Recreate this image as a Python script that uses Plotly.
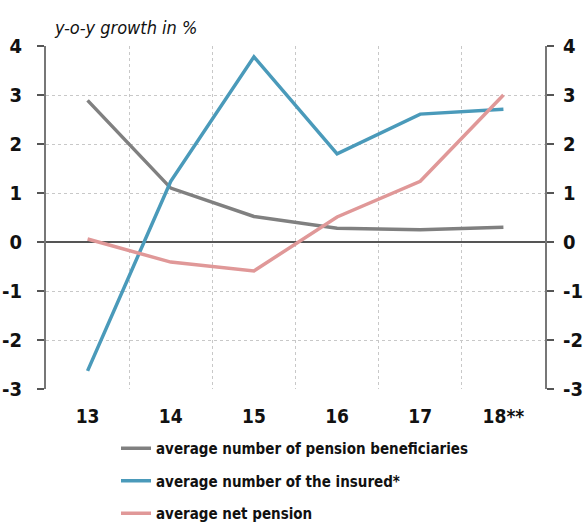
import plotly.graph_objects as go

years = ["13", "14", "15", "16", "17", "18**"]
beneficiaries = [2.89, 1.10, 0.52, 0.28, 0.25, 0.30]
insured = [-2.63, 1.24, 3.78, 1.80, 2.61, 2.71]
net_pension = [0.06, -0.41, -0.59, 0.51, 1.24, 3.00]
y_ticks = [-3, -2, -1, 0, 1, 2, 3, 4]
y_tick_text = ["-3", "-2", "-1", "0", "1", "2", "3", "4"]

series = [
    ("average number of pension beneficiaries", beneficiaries, "#808080"),
    ("average number of the insured*", insured, "#4a9aba"),
    ("average net pension", net_pension, "#e09898"),
]

FONT = "DejaVu Sans Condensed"
x_pos = list(range(len(years)))

# plot area in pixels: left 46, right 545, top 46, bottom 389
PLOT_L, PLOT_W, PLOT_B, PLOT_H = 46, 499, 389, 343

fig = go.Figure()
for name, vals, color in series:
    fig.add_trace(go.Scatter(
        x=x_pos, y=vals, name=name, legendgroup=name, mode="lines",
        line=dict(color=color, width=3.5),
    ))

# invisible trace to carry the mirrored right-hand axis
fig.add_trace(go.Scatter(x=x_pos, y=beneficiaries, yaxis="y2", mode="lines",
                         line=dict(width=0), showlegend=False, hoverinfo="skip"))

yaxis_common = dict(
    range=[-3, 4], tickvals=y_ticks, ticktext=y_tick_text,
    showline=True, linecolor="#777777", linewidth=2,
    ticks="outside", ticklen=7, tickwidth=2, tickcolor="#555555",
    tickfont=dict(family=FONT, size=20, color="#111111", weight="bold"),
)

fig.update_layout(
    width=585, height=523,
    margin=dict(l=46, r=40, t=46, b=134, autoexpand=False),
    paper_bgcolor="white", plot_bgcolor="white",
    font=dict(family=FONT, color="#111111"),
    xaxis=dict(
        range=[-0.5, 5.5], tickvals=x_pos, ticktext=years,
        showgrid=False, zeroline=False, showline=False, ticks="",
        ticklabelstandoff=14,
        tickfont=dict(family=FONT, size=19, color="#111111", weight="bold"),
        minor=dict(tickvals=[0.5, 1.5, 2.5, 3.5, 4.5], showgrid=True,
                   gridcolor="#c8c8c8", griddash="dot", gridwidth=1),
    ),
    yaxis=dict(
        **yaxis_common, side="left", ticklabelstandoff=11,
        showgrid=True, gridcolor="#c8c8c8", griddash="dot", gridwidth=1,
        zeroline=True, zerolinecolor="#555555", zerolinewidth=2,
    ),
    yaxis2=dict(
        **yaxis_common, side="right", overlaying="y", ticklabelstandoff=5,
        showgrid=False, zeroline=False,
    ),
    legend=dict(
        x=(116 - PLOT_L) / PLOT_W, y=(PLOT_B - 432) / PLOT_H,
        xanchor="left", yanchor="top",
        orientation="v", itemwidth=30, tracegroupgap=10,
        font=dict(family=FONT, size=15, color="#111111", weight="bold"),
        bgcolor="rgba(0,0,0,0)",
    ),
    annotations=[dict(
        text="<i>y-o-y growth in %</i>", xref="paper", yref="paper",
        x=0.0, y=1.0, xanchor="left", yanchor="bottom", yshift=6, xshift=6,
        showarrow=False, font=dict(family=FONT, size=18, color="#111111"),
    )],
    showlegend=True,
)

fig.write_html("out.html")
